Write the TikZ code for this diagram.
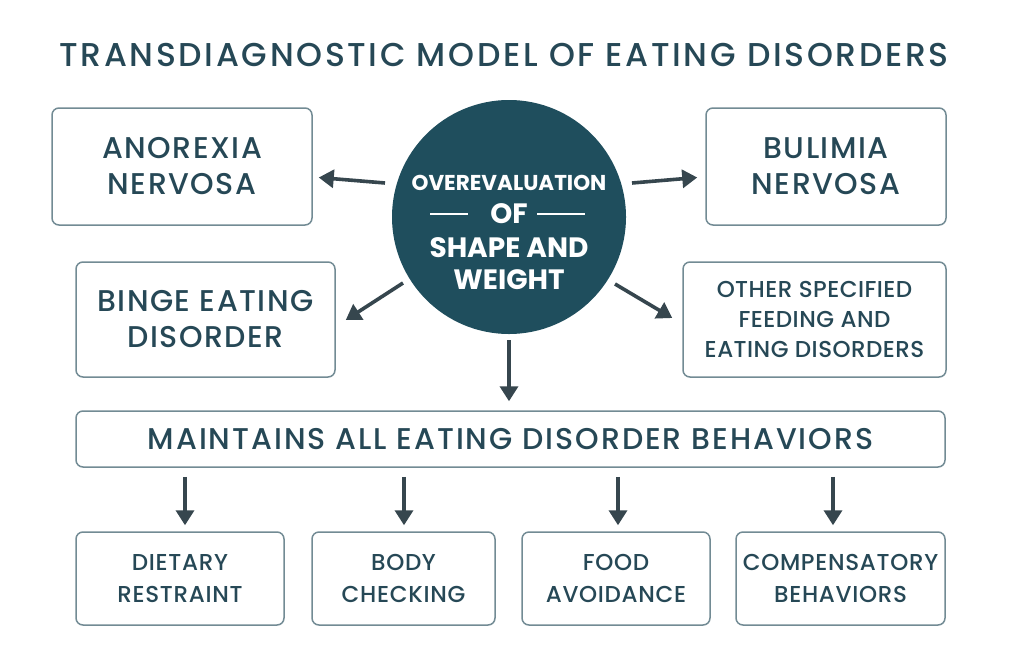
\documentclass[tikz,border=0pt]{standalone}
\usepackage{fontspec}
\setmainfont{Poppins}[UprightFont=*-Medium,BoldFont=*-Bold]
\usetikzlibrary{arrows.meta,calc}
\definecolor{teal}{HTML}{1F4E5D}
\definecolor{txt}{HTML}{264856}
\definecolor{boxc}{HTML}{728B94}
\definecolor{arrc}{HTML}{36464E}
\tikzset{
  box/.style={draw=boxc, line width=1.5pt, rounded corners=7pt, fill=white, align=center, text=txt, inner sep=0pt},
  arr/.style={draw=arrc, line width=3.6pt, -{Triangle[width=18pt,length=15pt]}},
  ctext/.style={text=white, anchor=base, inner sep=0pt},
  big/.style={font={\fontsize{30}{36}\selectfont\addfontfeature{LetterSpace=5}}},
  mid/.style={font={\fontsize{23}{30}\selectfont\addfontfeature{LetterSpace=2}}},
  small/.style={font={\fontsize{23}{32}\selectfont\addfontfeature{LetterSpace=3}}},
}
\begin{document}
\begin{tikzpicture}[x=1pt,y=-1pt]
\useasboundingbox[fill=white] (0,0) rectangle (1024,664);
% title
\node[anchor=base, text=txt, inner sep=0pt, font={\fontsize{33}{38}\selectfont\addfontfeature{LetterSpace=8}}] (title) at (504,66) {TRANSDIAGNOSTIC MODEL OF EATING DISORDERS};
% centre circle
\node[circle, fill=teal, minimum size=234pt, inner sep=0pt] (ov) at (509,217) {};
\node[ctext, font={\bfseries\fontsize{21.5}{24}\selectfont}] (l1) at (509,190) {OVEREVALUATION};
\node[ctext, font={\bfseries\fontsize{28}{30}\selectfont}] (l2) at (509,223) {OF};
\node[ctext, font={\bfseries\fontsize{28}{30}\selectfont}] (l3) at (509,257) {SHAPE AND};
\node[ctext, font={\bfseries\fontsize{28}{30}\selectfont}] (l4) at (509,289) {WEIGHT};
\coordinate (ofl1) at (430,214); \coordinate (ofl2) at (468,214);
\coordinate (ofr1) at (537,214); \coordinate (ofr2) at (585,214);
\draw[white, line width=1.6pt] (ofl1) -- (ofl2);
\draw[white, line width=1.6pt] (ofr1) -- (ofr2);
% disorder boxes
\node[box, big, minimum width=260pt, minimum height=117pt] (an) at (182,166.5) {ANOREXIA\\NERVOSA};
\node[box, big, minimum width=240pt, minimum height=117pt] (bn) at (826,166.5) {BULIMIA\\NERVOSA};
\node[box, big, minimum width=259pt, minimum height=115pt] (bed) at (205.5,319.5) {BINGE EATING\\DISORDER};
\node[box, mid, minimum width=263pt, minimum height=115pt] (os) at (814.5,319.5) {OTHER SPECIFIED\\FEEDING AND\\EATING DISORDERS};
% maintains
\node[box, font={\fontsize{30}{32}\selectfont\addfontfeature{LetterSpace=6.5}}, minimum width=869pt, minimum height=56pt] (ma) at (510.5,439) {MAINTAINS ALL EATING DISORDER BEHAVIORS};
% behaviour boxes
\node[box, small, minimum width=208pt, minimum height=93pt] (dr) at (180,578.5) {DIETARY\\RESTRAINT};
\node[box, small, minimum width=183pt, minimum height=93pt] (bc) at (403.5,578.5) {BODY\\CHECKING};
\node[box, small, minimum width=188pt, minimum height=93pt] (fa) at (616,578.5) {FOOD\\AVOIDANCE};
\node[box, small, minimum width=209pt, minimum height=93pt] (cb) at (840.5,578.5) {COMPENSATORY\\BEHAVIORS};
% arrows from circle
\draw[arr] ($(ov.center)+(-124,-34)$) -- ($(an.east)+(6,11)$);
\draw[arr] ($(ov.center)+(123,-34)$) -- ($(bn.west)+(-8,11)$);
\draw[arr] ($(ov.center)+(-106,66)$) -- ($(bed.east)+(10,0.5)$);
\draw[arr] ($(ov.center)+(106,67)$) -- ($(os.west)+(-10,-1.5)$);
\draw[arr] ($(ov.south)+(0,6)$) -- ($(ma.north)+(-1.5,-9)$);
% arrows to behaviours
\draw[arr] ($(ma.south -| dr.north)+(5,9)$) -- ($(dr.north)+(5,-6)$);
\draw[arr] ($(ma.south -| bc.north)+(0.5,9)$) -- ($(bc.north)+(0.5,-6)$);
\draw[arr] ($(ma.south -| fa.north)+(2,9)$) -- ($(fa.north)+(2,-6)$);
\draw[arr] ($(ma.south -| cb.north)+(-7.5,9)$) -- ($(cb.north)+(-7.5,-6)$);
\end{tikzpicture}
\end{document}
